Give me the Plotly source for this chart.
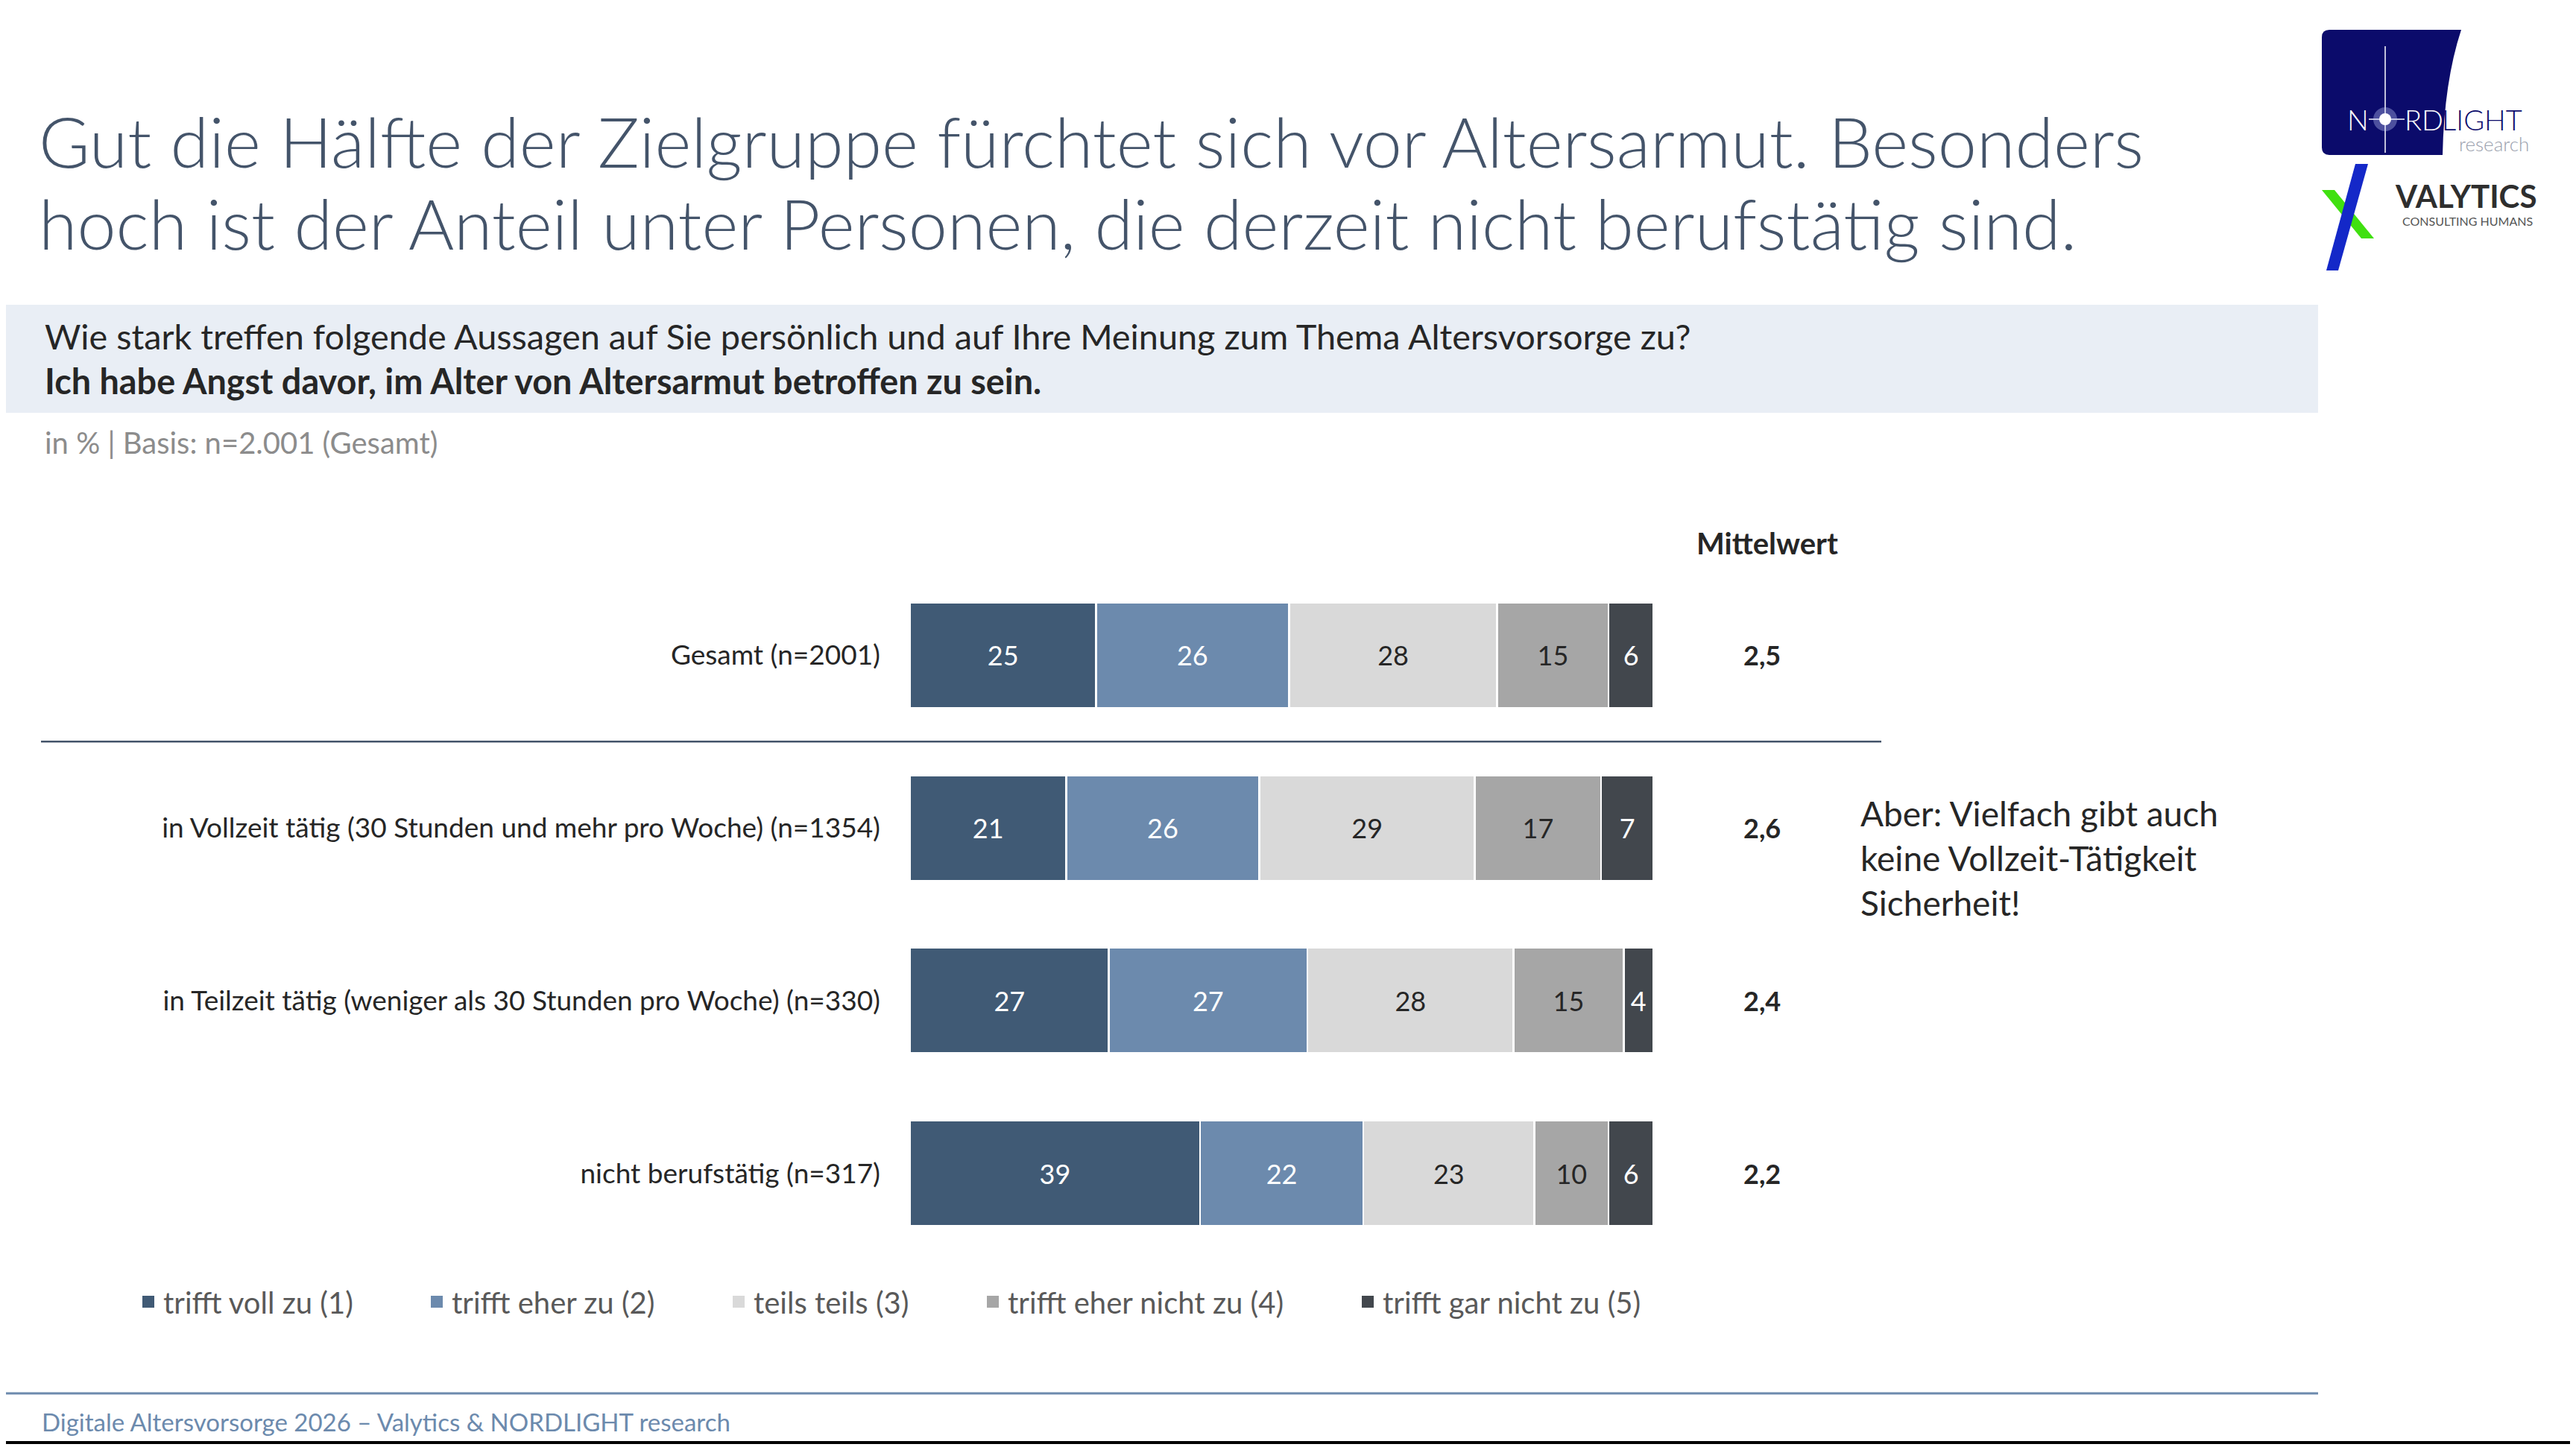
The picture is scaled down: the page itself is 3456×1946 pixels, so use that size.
import plotly.graph_objects as go

W, H = 3456, 1946
OFF = 8                      # page margin around the figure
FW, FH = W - 2 * OFF, H - 2 * OFF
FONT = "Lato"

# --- data ---
categories = [
    "Gesamt (n=2001)",
    "in Vollzeit tätig (30 Stunden und mehr pro Woche) (n=1354)",
    "in Teilzeit tätig (weniger als 30 Stunden pro Woche) (n=330)",
    "nicht berufstätig (n=317)",
]
series_names = [
    "trifft voll zu (1)",
    "trifft eher zu (2)",
    "teils teils (3)",
    "trifft eher nicht zu (4)",
    "trifft gar nicht zu (5)",
]
voll_zu = [25, 21, 27, 39]
eher_zu = [26, 26, 27, 22]
teils_teils = [28, 29, 28, 23]
eher_nicht_zu = [15, 17, 15, 10]
gar_nicht_zu = [6, 7, 4, 6]
mittelwert = ["2,5", "2,6", "2,4", "2,2"]

series_values = [voll_zu, eher_zu, teils_teils, eher_nicht_zu, gar_nicht_zu]
colors = ["#405A75", "#6C8AAD", "#D9D9D9", "#A6A6A6", "#42474D"]
text_colors = ["white", "white", "#262626", "#262626", "white"]
legend_x = [192, 579, 984, 1325, 1828]


def X(px):
    return (px - OFF) / FW


def Y(py):
    return 1 - (py - OFF) / FH


def P(x, y):
    return f"{X(x):.5f},{Y(y):.5f}"


fig = go.Figure()
legends = {}

for i, (name, vals, col, tcol) in enumerate(zip(series_names, series_values, colors, text_colors)):
    lg = "legend" if i == 0 else f"legend{i + 1}"
    fig.add_trace(go.Bar(
        y=categories,
        x=vals,
        orientation="h",
        name=name,
        marker=dict(color=col, line=dict(color="white", width=2.5)),
        text=[str(v) for v in vals],
        textposition="inside",
        insidetextanchor="middle",
        textangle=0,
        textfont=dict(family=FONT, size=36, color=tcol),
        showlegend=False,
        hoverinfo="skip",
    ))
    # legend entry with a larger square symbol
    fig.add_trace(go.Scatter(
        x=[None], y=[None], mode="markers", name=name, legend=lg,
        marker=dict(symbol="square", size=20, color=col),
        hoverinfo="skip",
    ))
    legends[lg] = dict(
        orientation="h", x=X(legend_x[i] - 13), y=Y(1747), xanchor="left", yanchor="middle",
        font=dict(family=FONT, size=40, color="#595959"), bgcolor="rgba(0,0,0,0)",
        itemclick=False, itemdoubleclick=False,
    )

annotations = []


def txt(x, y, s, size, color, bold=False, anchor="left", weight=None):
    font = dict(family=FONT, size=size, color=color)
    if weight:
        font["weight"] = weight
    annotations.append(dict(
        x=X(x), y=Y(y), xref="paper", yref="paper",
        text=f"<b>{s}</b>" if bold else s, showarrow=False,
        xanchor=anchor, yanchor="middle", align=anchor, font=font,
    ))


# title
txt(50, 189, "Gut die Hälfte der Zielgruppe fürchtet sich vor Altersarmut. Besonders", 93.5, "#44546A", weight=300)
txt(50, 299, "hoch ist der Anteil unter Personen, die derzeit nicht berufstätig sind.", 93.5, "#44546A", weight=300)

# question band text
txt(58, 451, "Wie stark treffen folgende Aussagen auf Sie persönlich und auf Ihre Meinung zum Thema Altersvorsorge zu?", 46.8, "#262626")
txt(58, 511, "Ich habe Angst davor, im Alter von Altersarmut betroffen zu sein.", 46.8, "#262626", bold=True)
txt(58, 594, "in % | Basis: n=2.001 (Gesamt)", 40, "#8C8C8C")

# mean column
txt(2371, 729, "Mittelwert", 40, "#262626", bold=True, anchor="center")
for cat, m in zip(categories, mittelwert):
    annotations.append(dict(
        x=X(2364), y=cat, xref="paper", yref="y", text=f"<b>{m}</b>",
        showarrow=False, xanchor="center", yanchor="middle",
        font=dict(family=FONT, size=36, color="#262626"),
    ))

# side note
txt(2494, 1151, "Aber: Vielfach gibt auch<br>keine Vollzeit-Tätigkeit<br>Sicherheit!", 46, "#262626")

# footer
txt(54, 1908, "Digitale Altersvorsorge 2026 – Valytics & NORDLIGHT research", 33, "#6C8AAD")

# logos text
txt(3147, 160, "N", 38, "white", weight=300)
txt(3224, 160, "RD", 38, "white", weight=300)
txt(3274, 160, "LIGHT", 38, "#0B0B6B", weight=300)
txt(3395, 193, "research", 26, "#9AA0AD", anchor="right", weight=300)
txt(3308, 263, "VALYTICS", 42, "#2E2E2E", bold=True, anchor="center")
txt(3310, 296, "CONSULTING HUMANS", 16, "#555555", anchor="center")

shapes = [
    # question band
    dict(type="rect", xref="paper", yref="paper", x0=0, x1=X(3110), y0=Y(554), y1=Y(409),
         fillcolor="#E9EEF5", line=dict(width=0), layer="below"),
    # separator under Gesamt
    dict(type="line", xref="paper", yref="y", x0=X(55), x1=X(2524), y0=0.5, y1=0.5,
         line=dict(color="#44546A", width=2.5)),
    # footer line
    dict(type="line", xref="paper", yref="paper", x0=0, x1=X(3110), y0=Y(1870), y1=Y(1870),
         line=dict(color="#6C8AAD", width=3)),
    # bottom edge
    dict(type="rect", xref="paper", yref="paper", x0=0, x1=1, y0=0, y1=Y(1934),
         fillcolor="black", line=dict(width=0)),
    # nordlight box
    dict(type="path", xref="paper", yref="paper", layer="below",
         path=f"M {P(3125,40)} L {P(3302,40)} Q {P(3279,110)} {P(3277,208)} L {P(3125,208)} "
              f"Q {P(3115,208)} {P(3115,198)} L {P(3115,50)} Q {P(3115,40)} {P(3125,40)} Z",
         fillcolor="#0B0B6B", line=dict(width=0)),
    dict(type="line", xref="paper", yref="paper", x0=X(3200), x1=X(3200), y0=Y(205), y1=Y(62),
         line=dict(color="white", width=1.5)),
    dict(type="line", xref="paper", yref="paper", x0=X(3178), x1=X(3226), y0=Y(160), y1=Y(160),
         line=dict(color="white", width=1.5)),
    dict(type="circle", xref="paper", yref="paper", x0=X(3184), x1=X(3216), y0=Y(176), y1=Y(144),
         fillcolor="rgba(200,210,255,0.35)", line=dict(width=0)),
    dict(type="circle", xref="paper", yref="paper", x0=X(3192), x1=X(3208), y0=Y(168), y1=Y(152),
         fillcolor="white", line=dict(width=0)),
    # valytics mark
    dict(type="path", xref="paper", yref="paper",
         path=f"M {P(3115,255)} L {P(3132,255)} L {P(3185,320)} L {P(3168,320)} Z",
         fillcolor="#40E010", line=dict(width=0)),
    dict(type="path", xref="paper", yref="paper",
         path=f"M {P(3160,220)} L {P(3177,220)} L {P(3137,363)} L {P(3121,363)} Z",
         fillcolor="#1428C8", line=dict(width=0)),
]

fig.update_layout(
    width=FW, height=FH,
    margin=dict(l=0, r=0, t=0, b=0, pad=0),
    paper_bgcolor="white", plot_bgcolor="white",
    barmode="stack", barnorm="percent", bargap=0.39,
    xaxis=dict(domain=[X(1221), X(2218)], range=[0, 100], visible=False, fixedrange=True),
    yaxis=dict(
        domain=[Y(1690.5), Y(763.5)], type="category", categoryarray=categories,
        range=[3.5, -0.5], showgrid=False, zeroline=False, showline=False, ticks="",
        ticklabelstandoff=39, tickfont=dict(family=FONT, size=37, color="#262626"),
    ),
    annotations=annotations,
    shapes=shapes,
    showlegend=True,
    **legends,
)

fig.write_html("out.html")
